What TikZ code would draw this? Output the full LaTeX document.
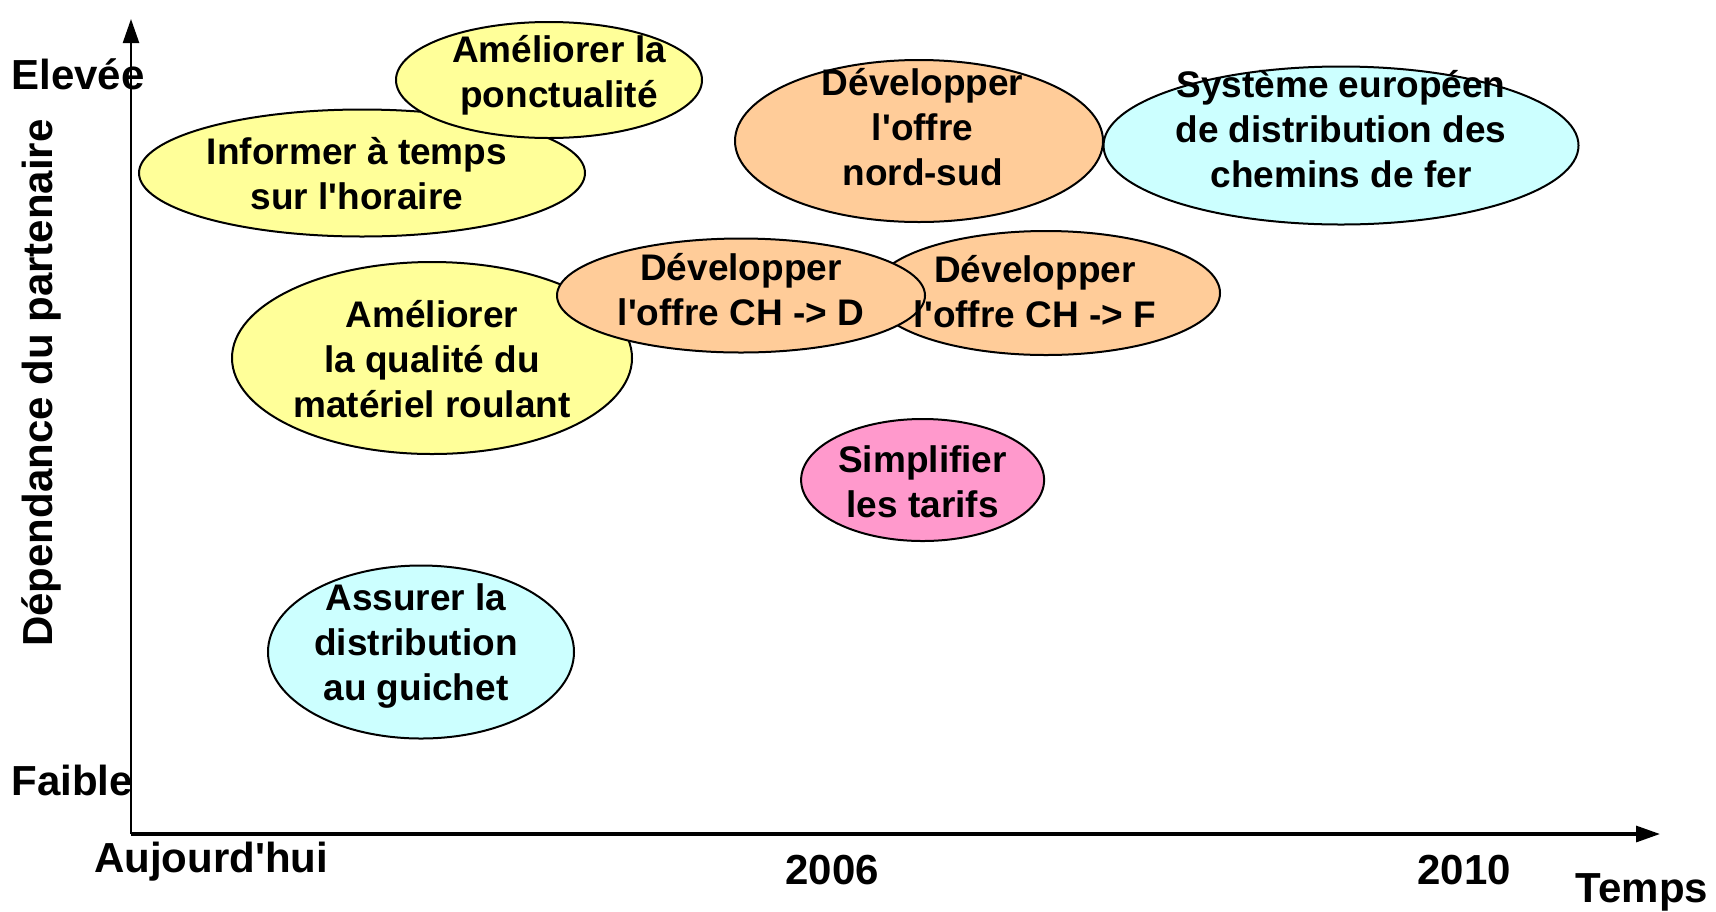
\documentclass[tikz,border=0pt]{standalone}
\usepackage{fontspec}
\setmainfont{Liberation Sans}
\usetikzlibrary{shapes.geometric,arrows.meta}
\newcommand{\sq}{\textquotesingle}
\definecolor{cyel}{HTML}{FFFF99}
\definecolor{corg}{HTML}{FFCC99}
\definecolor{ccyan}{HTML}{CCFFFF}
\definecolor{cpink}{HTML}{FF99CC}
\tikzset{
  bubble/.style={ellipse,draw=black,line width=1pt,inner sep=0pt},
  btext/.style={align=center,inner sep=0pt,font=\bfseries\fontsize{18.5}{22.4}\selectfont},
  axlabel/.style={inner sep=0pt,font=\bfseries\fontsize{21}{25}\selectfont},
  axis/.style={line width=1.2pt,-{Triangle[length=12pt,width=8pt]}}
}
\begin{document}
\begin{tikzpicture}[x=0.5pt,y=-0.5pt]
\useasboundingbox (0,0) rectangle (1716,911);
% axes
\coordinate (O) at (131,834);
\coordinate (Ytip) at (131,19);
\coordinate (Xtip) at (1660,834);
\draw[axis] (O) -- (Ytip);
\draw[axis,line width=1.6pt] (O) -- (Xtip);
% ellipses
\node[bubble,fill=cyel,minimum width=223pt,minimum height=63.5pt] (e2) at (362,173) {};
\node[bubble,fill=cyel,minimum width=153pt,minimum height=58pt] (e1) at (549,80) {};
\node[bubble,fill=cyel,minimum width=200pt,minimum height=96pt] (e3) at (432,358) {};
\node[bubble,fill=corg,minimum width=174pt,minimum height=62pt] (e5) at (1046,293) {};
\node[bubble,fill=corg,minimum width=184pt,minimum height=57pt] (e4) at (741,295.5) {};
\node[bubble,fill=corg,minimum width=184pt,minimum height=81pt] (e6) at (919,141) {};
\node[bubble,fill=ccyan,minimum width=237.5pt,minimum height=79pt] (e7) at (1341,145.5) {};
\node[bubble,fill=cpink,minimum width=121.5pt,minimum height=61pt] (e8) at (922.6,480) {};
\node[bubble,fill=ccyan,minimum width=153pt,minimum height=86.5pt] (e9) at (421,652) {};
% texts
\node[btext] (t1) at (559,75) {Améliorer la\\ponctualité};
\node[btext] (t2) at (357,174) {Informer à temps\\sur l\sq horaire};
\node[btext] (t3) at (432,359) {Améliorer\\la qualité du\\matériel roulant};
\node[btext] (t4) at (741,290) {Développer\\l\sq offre CH -> D};
\node[btext] (t5) at (1035,292) {Développer\\l\sq offre CH -> F};
\node[btext] (t6) at (922.6,127) {Développer\\l\sq offre\\nord-sud};
\node[btext] (t7) at (1341,129) {Système européen\\de distribution des\\chemins de fer};
\node[btext] (t8) at (922.6,481.5) {Simplifier\\les tarifs};
\node[btext] (t9) at (416,646) {Assurer la\\distribution\\au guichet};
% axis labels
\node[axlabel,anchor=west] (hi) at (11,74) {Elevée};
\node[axlabel,anchor=west] (lo) at (11,780) {Faible};
\node[axlabel,rotate=90] (ylab) at (41.6,383) {Dépendance du partenaire};
\node[axlabel] (today) at (211,862) {Aujourd\sq hui};
\node[axlabel] (y2006) at (832,870) {2006};
\node[axlabel] (y2010) at (1464,870) {2010};
\node[axlabel] (xlab) at (1642,892) {Temps};
\end{tikzpicture}
\end{document}
